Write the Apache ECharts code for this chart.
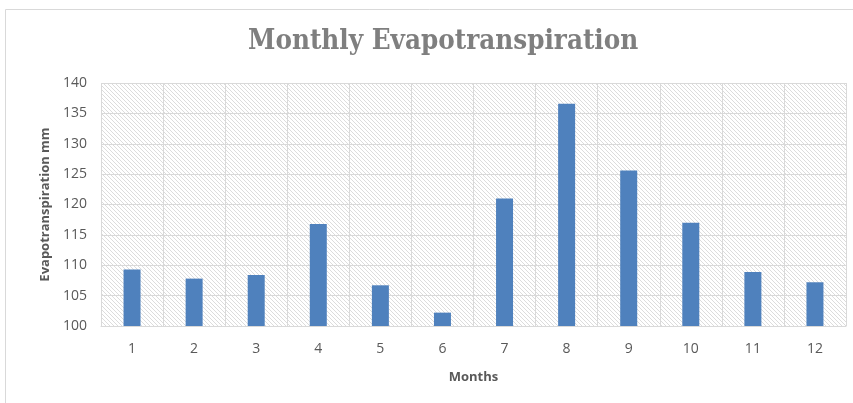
<!DOCTYPE html>
<html>
<head>
<meta charset="utf-8">
<script src="https://cdn.jsdelivr.net/npm/echarts@6/dist/echarts.min.js"></script>
<style>
  html, body { margin: 0; padding: 0; background: #fff; }
  #main { width: 853px; height: 403px; }
</style>
</head>
<body>
<div id="main"></div>
<script>
// data
var months = ['1', '2', '3', '4', '5', '6', '7', '8', '9', '10', '11', '12'];
var evapo = [109.3, 107.8, 108.4, 116.8, 106.7, 102.2, 121.0, 136.6, 125.6, 117.0, 108.9, 107.2];

// diagonal hatch for the plot area
function makeHatch() {
    var c = document.createElement('canvas');
    c.width = 4; c.height = 4;
    var ctx = c.getContext('2d');
    ctx.fillStyle = '#ffffff';
    ctx.fillRect(0, 0, 4, 4);
    ctx.fillStyle = '#dcdcdc';
    for (var i = 0; i < 4; i++) {
        ctx.fillRect(i, i, 1, 1);
    }
    return c;
}

var chart = echarts.init(document.getElementById('main'));
chart.setOption({
    animation: false,
    graphic: [{
        type: 'rect',
        shape: {x: 5.5, y: 9.5, width: 860, height: 400},
        style: {fill: 'none', stroke: '#d9d9d9', lineWidth: 1},
        silent: true
    }],
    title: {
        text: 'Monthly Evapotranspiration',
        left: 243,
        top: 23,
        textStyle: {
            fontFamily: 'DejaVu Serif Condensed',
            fontWeight: 'bold',
            fontSize: 27.5,
            color: '#7f7f7f'
        }
    },
    grid: {
        left: 101,
        right: 7,
        top: 83,
        bottom: 77,
        show: true,
        borderWidth: 0,
        backgroundColor: {image: makeHatch(), repeat: 'repeat'}
    },
    xAxis: {
        type: 'category',
        data: months,
        name: 'Months',
        nameLocation: 'middle',
        nameGap: 45,
        nameTextStyle: {fontFamily: 'Open Sans', fontWeight: 'bold', fontSize: 13, color: '#595959'},
        axisLine: {lineStyle: {color: '#d9d9d9', width: 1}},
        axisTick: {show: false},
        axisLabel: {fontFamily: 'Open Sans', fontSize: 14, color: '#595959', margin: 16},
        splitLine: {show: true, lineStyle: {color: '#d9d9d9'}}
    },
    yAxis: {
        type: 'value',
        min: 100,
        max: 140,
        interval: 5,
        name: 'Evapotranspiration mm',
        nameLocation: 'middle',
        nameGap: 47,
        nameTextStyle: {fontFamily: 'Open Sans', fontWeight: 'bold', fontSize: 13, color: '#595959'},
        axisLine: {show: false},
        axisTick: {show: false},
        axisLabel: {fontFamily: 'Open Sans', fontSize: 14, color: '#595959', margin: 14},
        splitLine: {lineStyle: {color: '#d9d9d9'}}
    },
    series: [{
        name: 'Evapotranspiration',
        type: 'bar',
        data: evapo,
        barWidth: 17,
        itemStyle: {color: '#4f81bd'}
    }]
});
</script>
</body>
</html>
